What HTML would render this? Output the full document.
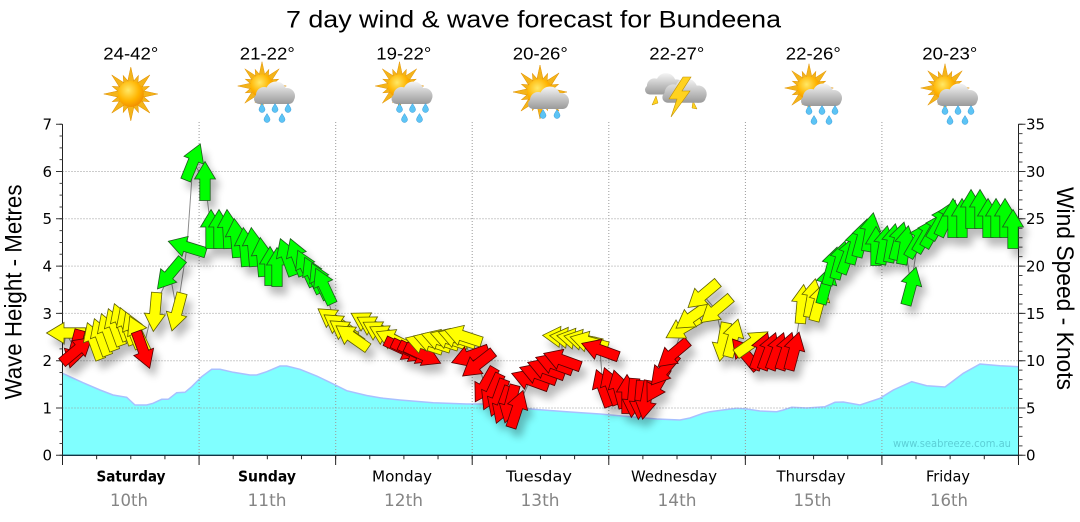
<!DOCTYPE html>
<html><head><meta charset="utf-8"><style>
html,body{margin:0;padding:0;background:#fff;}
svg{display:block;}
.g{fill:#00ff00;stroke:#1d5a1d;stroke-width:0.8;}
.y{fill:#ffff00;stroke:#5f5f00;stroke-width:0.8;}
.r{fill:#ff0000;stroke:#520000;stroke-width:0.8;}
</style></head><body>
<svg width="1080" height="522" viewBox="0 0 1080 522" xmlns="http://www.w3.org/2000/svg">
<defs>
<path id="ar" d="M0,-19.5 L10.5,-2 L5.2,-2 L5.2,19.5 L-5.2,19.5 L-5.2,-2 L-10.5,-2 Z"/>
<radialGradient id="sg" cx="0.4" cy="0.35" r="0.7"><stop offset="0" stop-color="#ffe866"/><stop offset="0.6" stop-color="#ffb400"/><stop offset="1" stop-color="#f08a00"/></radialGradient>
<linearGradient id="cg" gradientUnits="userSpaceOnUse" x1="0" y1="-14" x2="0" y2="9"><stop offset="0" stop-color="#f7f7f7"/><stop offset="1" stop-color="#9a9a9a"/></linearGradient>
<g id="sun">
<g fill="#f4b41a" stroke="#e09000" stroke-width="0.5">
<path d="M-3.5,-11L0,-27L3.5,-11Z"/><path d="M-3.5,-11L0,-27L3.5,-11Z" transform="rotate(45)"/><path d="M-3.5,-11L0,-27L3.5,-11Z" transform="rotate(90)"/><path d="M-3.5,-11L0,-27L3.5,-11Z" transform="rotate(135)"/><path d="M-3.5,-11L0,-27L3.5,-11Z" transform="rotate(180)"/><path d="M-3.5,-11L0,-27L3.5,-11Z" transform="rotate(225)"/><path d="M-3.5,-11L0,-27L3.5,-11Z" transform="rotate(270)"/><path d="M-3.5,-11L0,-27L3.5,-11Z" transform="rotate(315)"/>
<path d="M-3,-11L0,-20L3,-11Z" transform="rotate(22.5)"/><path d="M-3,-11L0,-20L3,-11Z" transform="rotate(67.5)"/><path d="M-3,-11L0,-20L3,-11Z" transform="rotate(112.5)"/><path d="M-3,-11L0,-20L3,-11Z" transform="rotate(157.5)"/><path d="M-3,-11L0,-20L3,-11Z" transform="rotate(202.5)"/><path d="M-3,-11L0,-20L3,-11Z" transform="rotate(247.5)"/><path d="M-3,-11L0,-20L3,-11Z" transform="rotate(292.5)"/><path d="M-3,-11L0,-20L3,-11Z" transform="rotate(337.5)"/>
</g>
<circle r="13" fill="url(#sg)"/>
</g>
<g id="cloud" fill="url(#cg)">
<circle cx="-10" cy="0" r="8"/><circle cx="2" cy="-3" r="10.5"/><circle cx="13" cy="1" r="8"/><rect x="-20" y="-1" width="40" height="10" rx="5"/>
</g>
<path id="drop" d="M0,-4.5 C1.5,-2 3,0 3,1.5 A3,3 0 0 1 -3,1.5 C-3,0 -1.5,-2 0,-4.5Z" fill="#5cc4f5" stroke="#3a9ad8" stroke-width="0.5"/>
<g id="rain">
<use href="#sun" transform="translate(-12,-9) scale(0.9)"/>
<use href="#cloud"/>
<use href="#drop" transform="translate(-12,13)"/><use href="#drop" transform="translate(1,13)"/><use href="#drop" transform="translate(14,13)"/>
<use href="#drop" transform="translate(-7,23)"/><use href="#drop" transform="translate(8,23)"/>
</g>
<filter id="sh" filterUnits="userSpaceOnUse" x="0" y="100" width="1080" height="400">
<feGaussianBlur in="SourceAlpha" stdDeviation="4"/>
<feOffset dx="5" dy="8"/>
<feComponentTransfer><feFuncA type="linear" slope="0.27"/></feComponentTransfer>
<feMerge><feMergeNode/><feMergeNode in="SourceGraphic"/></feMerge>
</filter>
</defs>

<!-- title -->
<text x="533.5" y="27.5" font-family="Liberation Sans, sans-serif" font-size="24.5" text-anchor="middle" textLength="495" lengthAdjust="spacingAndGlyphs" fill="#000">7 day wind &amp; wave forecast for Bundeena</text>

<!-- temperatures -->
<g font-family="Liberation Sans, sans-serif" font-size="17.6" text-anchor="middle" fill="#000">
<text x="130.8" y="59.3" textLength="55" lengthAdjust="spacingAndGlyphs">24-42°</text>
<text x="267.3" y="59.3" textLength="55" lengthAdjust="spacingAndGlyphs">21-22°</text>
<text x="403.8" y="59.3" textLength="55" lengthAdjust="spacingAndGlyphs">19-22°</text>
<text x="540.3" y="59.3" textLength="55" lengthAdjust="spacingAndGlyphs">20-26°</text>
<text x="676.8" y="59.3" textLength="55" lengthAdjust="spacingAndGlyphs">22-27°</text>
<text x="813.3" y="59.3" textLength="55" lengthAdjust="spacingAndGlyphs">22-26°</text>
<text x="949.8" y="59.3" textLength="55" lengthAdjust="spacingAndGlyphs">20-23°</text>
</g>

<!-- icons -->
<use href="#sun" transform="translate(130.8,94)"/>
<use href="#rain" transform="translate(274,95)"/>
<use href="#rain" transform="translate(411.5,95)"/>
<g transform="translate(548,100)">
<use href="#sun" transform="translate(-8,-8)"/>
<use href="#cloud"/>
<use href="#drop" transform="translate(-5,14)"/><use href="#drop" transform="translate(9,14)"/>
</g>
<g>
<use href="#cloud" transform="translate(664,86) scale(0.95)"/>
<path d="M656,96 L652,105 L658,103 Z" fill="#ffd21f" stroke="#c09000" stroke-width="0.5"/>
<path d="M693,101 L697,109 L692,108 Z" fill="#ffd21f" stroke="#c09000" stroke-width="0.5"/>
<use href="#cloud" transform="translate(684,93) scale(1.08)"/>
<path d="M683,77 L669,99 L677,99 L671,117 L690,91 L682,91 L691,77 Z" fill="#ffd21f" stroke="#c09000" stroke-width="0.6"/>
</g>
<use href="#rain" transform="translate(821,97)"/>
<use href="#rain" transform="translate(957,97)"/>

<!-- wave area -->
<path d="M62.5,455.3 L62.5,373.3 L83,382.7 L100,390 L113,395 L126.7,397.3 L135,405 L146.7,405 L153,403.3 L161.7,399.3 L168.3,399.3 L176.7,392.7 L185,392.3 L191.7,386.7 L201.7,376.7 L211.7,369.3 L220,369.3 L233.3,372.3 L250,375 L256.7,375 L266.7,371.7 L280,366 L286.7,366 L300,369.3 L316.7,376 L333.3,384 L346.7,390.7 L366.7,395.5 L383.3,398.3 L400,400 L433.3,402.7 L466.7,404 L483.3,404 L533.3,409.3 L566.7,411.7 L600,414 L630,416.7 L656.7,419 L680,420 L690,418 L703,413.3 L710,411.7 L723,410 L736.7,408.3 L746.7,409 L760,411 L776.7,411.7 L783.3,410 L791.7,407.3 L806.7,408 L825,406.7 L835,402.3 L843.3,402 L860,405 L880,398.3 L893.3,390 L911.7,381.7 L926.7,385.7 L945,387 L963.3,373.3 L980,364 L1000,365.7 L1018.5,366.7 L1018.5,455.3 Z" fill="#80ffff"/>
<path d="M62.5,373.3 L83,382.7 L100,390 L113,395 L126.7,397.3 L135,405 L146.7,405 L153,403.3 L161.7,399.3 L168.3,399.3 L176.7,392.7 L185,392.3 L191.7,386.7 L201.7,376.7 L211.7,369.3 L220,369.3 L233.3,372.3 L250,375 L256.7,375 L266.7,371.7 L280,366 L286.7,366 L300,369.3 L316.7,376 L333.3,384 L346.7,390.7 L366.7,395.5 L383.3,398.3 L400,400 L433.3,402.7 L466.7,404 L483.3,404 L533.3,409.3 L566.7,411.7 L600,414 L630,416.7 L656.7,419 L680,420 L690,418 L703,413.3 L710,411.7 L723,410 L736.7,408.3 L746.7,409 L760,411 L776.7,411.7 L783.3,410 L791.7,407.3 L806.7,408 L825,406.7 L835,402.3 L843.3,402 L860,405 L880,398.3 L893.3,390 L911.7,381.7 L926.7,385.7 L945,387 L963.3,373.3 L980,364 L1000,365.7 L1018.5,366.7" fill="none" stroke="#a8c0ff" stroke-width="1.5"/>

<!-- watermark -->
<text x="952" y="447" font-family="DejaVu Sans, sans-serif" font-size="10.5" text-anchor="middle" fill="#5ccfd6" textLength="118" lengthAdjust="spacingAndGlyphs">www.seabreeze.com.au</text>

<!-- grid -->
<g stroke="#9a9a9a" stroke-width="1" stroke-dasharray="1 2" fill="none">
<line x1="62.5" y1="408" x2="1018.5" y2="408"/>
<line x1="62.5" y1="360.7" x2="1018.5" y2="360.7"/>
<line x1="62.5" y1="313.4" x2="1018.5" y2="313.4"/>
<line x1="62.5" y1="266.1" x2="1018.5" y2="266.1"/>
<line x1="62.5" y1="218.8" x2="1018.5" y2="218.8"/>
<line x1="62.5" y1="171.5" x2="1018.5" y2="171.5"/>
<line x1="199.1" y1="122" x2="199.1" y2="455"/>
<line x1="335.7" y1="122" x2="335.7" y2="455"/>
<line x1="472.2" y1="122" x2="472.2" y2="455"/>
<line x1="608.8" y1="122" x2="608.8" y2="455"/>
<line x1="745.4" y1="122" x2="745.4" y2="455"/>
<line x1="881.9" y1="122" x2="881.9" y2="455"/>
</g>

<!-- axes -->
<g fill="none">
<line x1="62.5" y1="124" x2="62.5" y2="465" stroke="#222" stroke-width="1"/>
<line x1="1018.5" y1="124" x2="1018.5" y2="455.5" stroke="#222" stroke-width="1"/>
<line x1="62" y1="455.3" x2="1019" y2="455.3" stroke="#123545" stroke-width="1.3"/>
<line x1="61" y1="123.7" x2="61" y2="456" stroke="#444" stroke-width="3" stroke-dasharray="1 10.825"/>
<line x1="59" y1="123.7" x2="59" y2="456" stroke="#333" stroke-width="6" stroke-dasharray="1 46.3"/>
<line x1="1020.5" y1="123.7" x2="1020.5" y2="456" stroke="#444" stroke-width="4" stroke-dasharray="1 8.46"/>
<line x1="1022" y1="123.7" x2="1022" y2="456" stroke="#333" stroke-width="7" stroke-dasharray="1 46.3"/>
<line x1="62" y1="457.3" x2="1020" y2="457.3" stroke="#222" stroke-width="4" stroke-dasharray="1 33.14"/>
<line x1="62" y1="460" x2="1020" y2="460" stroke="#222" stroke-width="10" stroke-dasharray="1 135.57"/>
</g>

<!-- tick labels -->
<g font-family="DejaVu Sans, sans-serif" font-size="15" fill="#000">
<g text-anchor="end">
<text x="52" y="460.7">0</text><text x="52" y="413.4">1</text><text x="52" y="366.1">2</text><text x="52" y="318.8">3</text><text x="52" y="271.5">4</text><text x="52" y="224.2">5</text><text x="52" y="176.9">6</text><text x="52" y="129.6">7</text>
</g>
<text x="1026" y="460.7">0</text><text x="1026" y="413.4">5</text><text x="1026" y="366.1">10</text><text x="1026" y="318.8">15</text><text x="1026" y="271.5">20</text><text x="1026" y="224.2">25</text><text x="1026" y="176.9">30</text><text x="1026" y="129.6">35</text>
</g>

<!-- axis titles -->
<text transform="translate(21.5,292) rotate(-90)" font-family="Liberation Sans, sans-serif" font-size="24" text-anchor="middle" textLength="215" lengthAdjust="spacingAndGlyphs">Wave Height - Metres</text>
<text transform="translate(1057,288.5) rotate(90)" font-family="Liberation Sans, sans-serif" font-size="24" text-anchor="middle" textLength="203" lengthAdjust="spacingAndGlyphs">Wind Speed - Knots</text>

<!-- day labels -->
<g font-family="DejaVu Sans, sans-serif" font-size="15" text-anchor="middle" fill="#000">
<text x="131" y="481.5" font-weight="bold" textLength="69" lengthAdjust="spacingAndGlyphs">Saturday</text>
<text x="267" y="481.5" font-weight="bold" textLength="58" lengthAdjust="spacingAndGlyphs">Sunday</text>
<text x="402" y="481.5" textLength="60" lengthAdjust="spacingAndGlyphs">Monday</text>
<text x="539" y="481.5" textLength="66" lengthAdjust="spacingAndGlyphs">Tuesday</text>
<text x="674" y="481.5" textLength="86" lengthAdjust="spacingAndGlyphs">Wednesday</text>
<text x="811" y="481.5" textLength="69" lengthAdjust="spacingAndGlyphs">Thursday</text>
<text x="948" y="481.5" textLength="44" lengthAdjust="spacingAndGlyphs">Friday</text>
</g>
<g font-family="DejaVu Sans, sans-serif" font-size="17" text-anchor="middle" fill="#858585">
<text x="129" y="506" textLength="38" lengthAdjust="spacingAndGlyphs">10th</text>
<text x="267" y="506" textLength="39" lengthAdjust="spacingAndGlyphs">11th</text>
<text x="403.5" y="506" textLength="39" lengthAdjust="spacingAndGlyphs">12th</text>
<text x="540" y="506" textLength="39" lengthAdjust="spacingAndGlyphs">13th</text>
<text x="677" y="506" textLength="39" lengthAdjust="spacingAndGlyphs">14th</text>
<text x="812.5" y="506" textLength="38" lengthAdjust="spacingAndGlyphs">15th</text>
<text x="949" y="506" textLength="38" lengthAdjust="spacingAndGlyphs">16th</text>
</g>

<!-- connecting line -->
<polyline fill="none" stroke="#8c8c8c" stroke-width="1" points="64,345 66,333 75,349 77,350 93,342 100,338 108,333 115,328 121,322 127,326 133,330 138,334 143,350 152,312 170,274 177,312 187,247 193,162 205,181 211,229 219,229 228,229 236,238 245,247 253,247 262,257 270,266 277,267 287,257 297,257 306,268 313,275 320,281 324,286 334,320 340,326 346,332 352,337 368,323 374,327 380,332 387,336 394,340 403,349 410,351 417,353 423,355 424,344 432,342 440,340 449,339 457,338 463,336 470,356 478,364 485,385 492,392 498,398 503,405 510,404 517,409 530,380 538,374 546,369 554,364 562,360 562,337 569,338 576,339 583,340 589,342 600,350 603,388 611,386 619,389 627,394 633,398 640,400 646,400 657,385 664,370 673,354 683,328 692,317 703,295 716,310 723,342 733,338 745,354 752,343 761,351 769,351 777,351 786,351 794,351 802,304 812,298 819,302 826,285 832,266 840,260 848,255 855,245 862,238 870,232 876,246 884,245 892,243 899,241 905,245 911,286 918,240 926,235 934,230 940,222 947,218 953,218 962,218 971,209 980,209 988,218 996,218 1005,218 1013,229"/>

<!-- arrows -->
<g filter="url(#sh)">
<use href="#ar" class="y" transform="translate(66 333) rotate(270)"/>
<use href="#ar" class="r" transform="translate(75 349) rotate(195)"/>
<use href="#ar" class="r" transform="translate(77 350) rotate(50)"/>
<use href="#ar" class="y" transform="translate(94 341) rotate(340)"/>
<use href="#ar" class="y" transform="translate(101 337) rotate(340)"/>
<use href="#ar" class="y" transform="translate(108 332) rotate(340)"/>
<use href="#ar" class="y" transform="translate(115 327) rotate(340)"/>
<use href="#ar" class="y" transform="translate(121 322) rotate(340)"/>
<use href="#ar" class="y" transform="translate(127 326) rotate(340)"/>
<use href="#ar" class="y" transform="translate(133 330) rotate(338)"/>
<use href="#ar" class="y" transform="translate(138 334) rotate(335)"/>
<use href="#ar" class="r" transform="translate(143 350) rotate(160)"/>
<use href="#ar" class="y" transform="translate(155 312) rotate(185)"/>
<use href="#ar" class="g" transform="translate(170 274) rotate(220)"/>
<use href="#ar" class="y" transform="translate(177 312) rotate(195)"/>
<use href="#ar" class="g" transform="translate(187 247) rotate(287)"/>
<use href="#ar" class="g" transform="translate(193 162) rotate(22)"/>
<use href="#ar" class="g" transform="translate(205 181) rotate(0)"/>

<use href="#ar" class="g" transform="translate(211 229) rotate(0)"/>
<use href="#ar" class="g" transform="translate(219 229) rotate(0)"/>
<use href="#ar" class="g" transform="translate(228 229) rotate(-3)"/>
<use href="#ar" class="g" transform="translate(236 238) rotate(-5)"/>
<use href="#ar" class="g" transform="translate(245 247) rotate(-5)"/>
<use href="#ar" class="g" transform="translate(253 247) rotate(-5)"/>
<use href="#ar" class="g" transform="translate(262 257) rotate(-5)"/>
<use href="#ar" class="g" transform="translate(270 266) rotate(0)"/>
<use href="#ar" class="g" transform="translate(277 267) rotate(0)"/>
<use href="#ar" class="g" transform="translate(287 257) rotate(-20)"/>
<use href="#ar" class="g" transform="translate(297 257) rotate(-20)"/>
<use href="#ar" class="g" transform="translate(306 268) rotate(-25)"/>
<use href="#ar" class="g" transform="translate(313 275) rotate(-25)"/>
<use href="#ar" class="g" transform="translate(320 281) rotate(-25)"/>
<use href="#ar" class="g" transform="translate(324 286) rotate(-25)"/>

<use href="#ar" class="y" transform="translate(334 320) rotate(305)"/>
<use href="#ar" class="y" transform="translate(340 326) rotate(305)"/>
<use href="#ar" class="y" transform="translate(346 332) rotate(305)"/>
<use href="#ar" class="y" transform="translate(352 337) rotate(305)"/>
<use href="#ar" class="y" transform="translate(368 323) rotate(300)"/>
<use href="#ar" class="y" transform="translate(374 327) rotate(300)"/>
<use href="#ar" class="y" transform="translate(380 332) rotate(300)"/>
<use href="#ar" class="y" transform="translate(387 336) rotate(298)"/>
<use href="#ar" class="y" transform="translate(394 340) rotate(295)"/>
<use href="#ar" class="r" transform="translate(403 349) rotate(115)"/>
<use href="#ar" class="r" transform="translate(410 351) rotate(115)"/>
<use href="#ar" class="r" transform="translate(417 353) rotate(115)"/>
<use href="#ar" class="r" transform="translate(423 355) rotate(115)"/>
<use href="#ar" class="y" transform="translate(424 344) rotate(288)"/>
<use href="#ar" class="y" transform="translate(432 342) rotate(288)"/>
<use href="#ar" class="y" transform="translate(440 340) rotate(288)"/>
<use href="#ar" class="y" transform="translate(449 339) rotate(288)"/>
<use href="#ar" class="y" transform="translate(457 338) rotate(288)"/>
<use href="#ar" class="y" transform="translate(463 336) rotate(288)"/>

<use href="#ar" class="r" transform="translate(470 356) rotate(250)"/>
<use href="#ar" class="r" transform="translate(478 364) rotate(232)"/>
<use href="#ar" class="r" transform="translate(485 385) rotate(210)"/>
<use href="#ar" class="r" transform="translate(492 392) rotate(205)"/>
<use href="#ar" class="r" transform="translate(498 398) rotate(200)"/>
<use href="#ar" class="r" transform="translate(503 405) rotate(200)"/>
<use href="#ar" class="r" transform="translate(510 404) rotate(195)"/>
<use href="#ar" class="r" transform="translate(517 409) rotate(18)"/>
<use href="#ar" class="r" transform="translate(530 380) rotate(290)"/>
<use href="#ar" class="r" transform="translate(538 374) rotate(290)"/>
<use href="#ar" class="r" transform="translate(546 369) rotate(290)"/>
<use href="#ar" class="r" transform="translate(554 364) rotate(290)"/>
<use href="#ar" class="r" transform="translate(562 360) rotate(290)"/>
<use href="#ar" class="y" transform="translate(562 337) rotate(275)"/>
<use href="#ar" class="y" transform="translate(569 338) rotate(277)"/>
<use href="#ar" class="y" transform="translate(576 339) rotate(280)"/>
<use href="#ar" class="y" transform="translate(583 340) rotate(282)"/>
<use href="#ar" class="y" transform="translate(589 342) rotate(285)"/>
<use href="#ar" class="r" transform="translate(600 350) rotate(290)"/>

<use href="#ar" class="r" transform="translate(603 388) rotate(340)"/>
<use href="#ar" class="r" transform="translate(611 386) rotate(340)"/>
<use href="#ar" class="r" transform="translate(619 389) rotate(345)"/>
<use href="#ar" class="r" transform="translate(627 394) rotate(0)"/>
<use href="#ar" class="r" transform="translate(633 398) rotate(185)"/>
<use href="#ar" class="r" transform="translate(640 400) rotate(185)"/>
<use href="#ar" class="r" transform="translate(646 400) rotate(190)"/>
<use href="#ar" class="r" transform="translate(657 385) rotate(210)"/>
<use href="#ar" class="r" transform="translate(664 370) rotate(220)"/>
<use href="#ar" class="r" transform="translate(673 354) rotate(230)"/>
<use href="#ar" class="y" transform="translate(683 328) rotate(240)"/>
<use href="#ar" class="y" transform="translate(692 317) rotate(235)"/>
<use href="#ar" class="y" transform="translate(703 295) rotate(230)"/>
<use href="#ar" class="y" transform="translate(716 310) rotate(230)"/>
<use href="#ar" class="y" transform="translate(723 342) rotate(190)"/>
<use href="#ar" class="y" transform="translate(733 338) rotate(15)"/>
<use href="#ar" class="r" transform="translate(745 354) rotate(320)"/>
<use href="#ar" class="y" transform="translate(752 343) rotate(55)"/>
<use href="#ar" class="r" transform="translate(761 351) rotate(20)"/>
<use href="#ar" class="r" transform="translate(769 351) rotate(20)"/>
<use href="#ar" class="r" transform="translate(777 351) rotate(20)"/>
<use href="#ar" class="r" transform="translate(786 351) rotate(18)"/>
<use href="#ar" class="r" transform="translate(794 351) rotate(15)"/>

<use href="#ar" class="y" transform="translate(802 304) rotate(5)"/>
<use href="#ar" class="y" transform="translate(812 298) rotate(10)"/>
<use href="#ar" class="y" transform="translate(819 302) rotate(15)"/>
<use href="#ar" class="g" transform="translate(826 285) rotate(15)"/>
<use href="#ar" class="g" transform="translate(832 266) rotate(15)"/>
<use href="#ar" class="g" transform="translate(840 260) rotate(15)"/>
<use href="#ar" class="g" transform="translate(848 255) rotate(20)"/>
<use href="#ar" class="g" transform="translate(855 245) rotate(15)"/>
<use href="#ar" class="g" transform="translate(862 238) rotate(15)"/>
<use href="#ar" class="g" transform="translate(870 232) rotate(10)"/>
<use href="#ar" class="g" transform="translate(876 246) rotate(0)"/>
<use href="#ar" class="g" transform="translate(884 245) rotate(10)"/>
<use href="#ar" class="g" transform="translate(892 243) rotate(10)"/>
<use href="#ar" class="g" transform="translate(899 241) rotate(15)"/>
<use href="#ar" class="g" transform="translate(905 245) rotate(10)"/>
<use href="#ar" class="g" transform="translate(911 286) rotate(15)"/>
<use href="#ar" class="g" transform="translate(918 240) rotate(30)"/>
<use href="#ar" class="g" transform="translate(926 235) rotate(30)"/>
<use href="#ar" class="g" transform="translate(934 230) rotate(30)"/>
<use href="#ar" class="g" transform="translate(940 222) rotate(30)"/>
<use href="#ar" class="g" transform="translate(947 218) rotate(25)"/>
<use href="#ar" class="g" transform="translate(953 218) rotate(0)"/>
<use href="#ar" class="g" transform="translate(962 218) rotate(0)"/>
<use href="#ar" class="g" transform="translate(971 209) rotate(0)"/>
<use href="#ar" class="g" transform="translate(980 209) rotate(0)"/>
<use href="#ar" class="g" transform="translate(988 218) rotate(0)"/>
<use href="#ar" class="g" transform="translate(996 218) rotate(0)"/>
<use href="#ar" class="g" transform="translate(1005 218) rotate(0)"/>
<use href="#ar" class="g" transform="translate(1013 229) rotate(0)"/>
</g>
</svg>
</body></html>
